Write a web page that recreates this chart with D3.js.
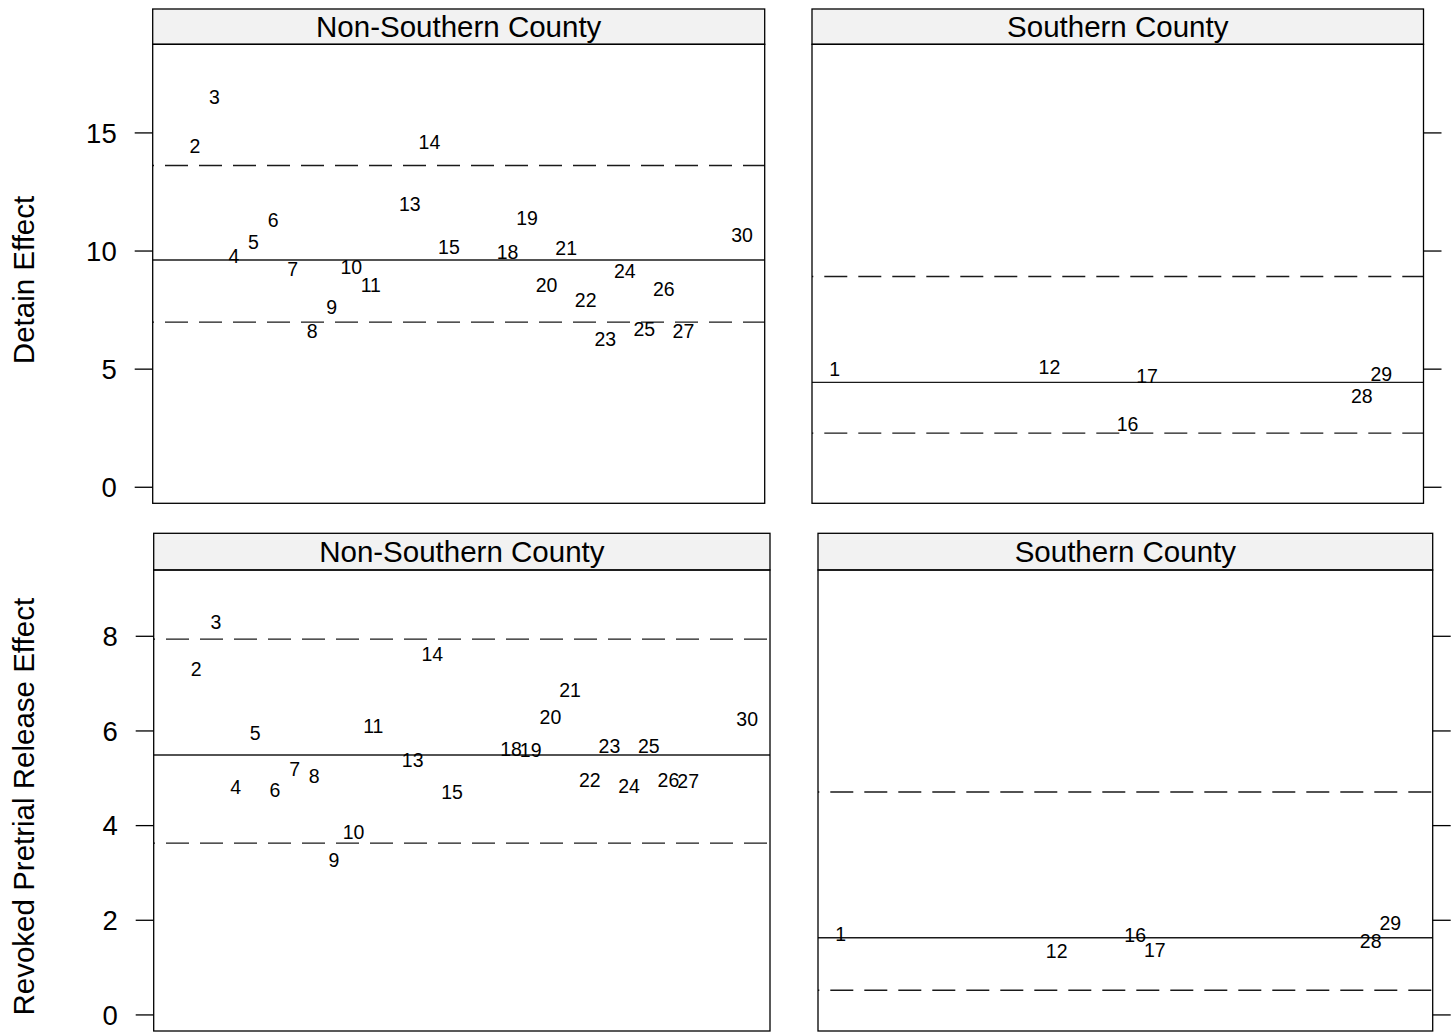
<!DOCTYPE html>
<html>
<head>
<meta charset="utf-8">
<script src="https://cdn.jsdelivr.net/npm/d3@7"></script>
<style>
  html, body { margin: 0; padding: 0; background: #fff; }
  svg { display: block; }
  text { font-family: "Liberation Sans", Arial, Helvetica, sans-serif; fill: #000; }
</style>
</head>
<body>
<svg id="chart" width="1455" height="1032"></svg>
<script>
// County identifiers, plotted along the x axis in order
const countyIds = [1, 2, 3, 4, 5, 6, 7, 8, 9, 10, 11, 12, 13, 14, 15,
                   16, 17, 18, 19, 20, 21, 22, 23, 24, 25, 26, 27, 28, 29, 30];

// Region of each county (same order as countyIds)
const countyRegion = ["Southern County", "Non-Southern County", "Non-Southern County", "Non-Southern County",
  "Non-Southern County", "Non-Southern County", "Non-Southern County", "Non-Southern County",
  "Non-Southern County", "Non-Southern County", "Non-Southern County", "Southern County",
  "Non-Southern County", "Non-Southern County", "Non-Southern County", "Southern County",
  "Southern County", "Non-Southern County", "Non-Southern County", "Non-Southern County",
  "Non-Southern County", "Non-Southern County", "Non-Southern County", "Non-Southern County",
  "Non-Southern County", "Non-Southern County", "Non-Southern County", "Southern County",
  "Southern County", "Non-Southern County"];

// Estimated effects per county
const detainEffect = [4.97, 14.41, 16.49, 9.76, 10.38, 11.28, 9.23, 6.61, 7.59, 9.29,
                      8.56, 5.05, 11.99, 14.61, 10.13, 2.67, 4.68, 9.94, 11.36, 8.53,
                      10.10, 7.90, 6.27, 9.13, 6.69, 8.38, 6.58, 3.85, 4.79, 10.64];
const revokedEffect = [1.70, 7.29, 8.29, 4.81, 5.95, 4.75, 5.19, 5.04, 3.27, 3.85,
                       6.10, 1.35, 5.37, 7.62, 4.70, 1.68, 1.37, 5.61, 5.59, 6.29,
                       6.86, 4.96, 5.68, 4.82, 5.67, 4.96, 4.94, 1.55, 1.93, 6.25];

// Panel order and reference lines (centre, lower and upper bounds) per panel
const panelNames = ["Non-Southern County", "Southern County"];
const detainCenter = [9.60, 4.42];
const detainLower  = [6.97, 2.27];
const detainUpper  = [13.60, 8.90];
const revokedCenter = [5.48, 1.62];
const revokedLower  = [3.62, 0.51];
const revokedUpper  = [7.93, 4.70];

// Tick values
const detainTicks = [0, 5, 10, 15];
const revokedTicks = [0, 2, 4, 6, 8];

const svg = d3.select("#chart");

const FONT_TICK = 27.5, FONT_STRIP = 29.5, FONT_TITLE = 29.5, FONT_LABEL = 19.5;
const CAP = 0.716; // cap height ratio of the sans face

const rows = [
  {
    title: "Detain Effect", values: detainEffect, ticks: detainTicks,
    center: detainCenter, lower: detainLower, upper: detainUpper,
    yDomain: [-0.70, 18.73],
    stripTop: 9, panelTop: 44.3, panelBottom: 503.3,
    panelsX: [[152.7, 764.7], [812, 1423.5]],
    titleY: 280
  },
  {
    title: "Revoked Pretrial Release Effect", values: revokedEffect, ticks: revokedTicks,
    center: revokedCenter, lower: revokedLower, upper: revokedUpper,
    yDomain: [-0.35, 9.39],
    stripTop: 533.3, panelTop: 570, panelBottom: 1031,
    panelsX: [[153.7, 770], [818, 1432.7]],
    titleY: 806.7
  }
];

// x domain padded like lattice (4% each side)
const xMin = d3.min(countyIds), xMax = d3.max(countyIds);
const xPad = (xMax - xMin) * 0.04;

rows.forEach(row => {
  const y = d3.scaleLinear().domain(row.yDomain).range([row.panelBottom, row.panelTop]);

  // Row axis title
  svg.append("text")
    .attr("transform", `translate(33.5,${row.titleY}) rotate(-90)`)
    .attr("text-anchor", "middle")
    .style("font-size", FONT_TITLE + "px")
    .text(row.title);

  panelNames.forEach((name, pi) => {
    const [x0, x1] = row.panelsX[pi];
    const x = d3.scaleLinear().domain([xMin - xPad, xMax + xPad]).range([x0, x1]);
    const g = svg.append("g");

    // Strip
    g.append("rect")
      .attr("x", x0).attr("y", row.stripTop)
      .attr("width", x1 - x0).attr("height", row.panelTop - row.stripTop)
      .attr("fill", "#f2f2f2").attr("stroke", "#000").attr("stroke-width", 1.3);
    g.append("text")
      .attr("x", (x0 + x1) / 2)
      .attr("y", (row.stripTop + row.panelTop) / 2 + CAP * FONT_STRIP / 2)
      .attr("text-anchor", "middle")
      .style("font-size", FONT_STRIP + "px")
      .text(name);

    // Reference lines
    const refs = [
      { v: row.upper[pi], dash: "23,11" },
      { v: row.center[pi], dash: null },
      { v: row.lower[pi], dash: "23,11" }
    ];
    refs.forEach(r => {
      const ln = g.append("line")
        .attr("x1", x0).attr("x2", x1)
        .attr("y1", y(r.v)).attr("y2", y(r.v))
        .attr("stroke", "#1a1a1a").attr("stroke-width", 1.4);
      if (r.dash) ln.attr("stroke-dasharray", r.dash).attr("stroke-dashoffset", -12.3);
    });

    // County labels
    const pts = countyIds
      .map((id, i) => ({ id, region: countyRegion[i], v: row.values[i] }))
      .filter(d => d.region === name);
    g.selectAll("text.pt").data(pts).join("text")
      .attr("class", "pt")
      .attr("x", d => x(d.id))
      .attr("y", d => y(d.v) + CAP * FONT_LABEL / 2)
      .attr("text-anchor", "middle")
      .style("font-size", FONT_LABEL + "px")
      .text(d => d.id);

    // Panel border
    g.append("rect")
      .attr("x", x0).attr("y", row.panelTop)
      .attr("width", x1 - x0).attr("height", row.panelBottom - row.panelTop)
      .attr("fill", "none").attr("stroke", "#000").attr("stroke-width", 1.3);

    // Axes: labelled on the left of the first panel, bare ticks on the right of the last
    if (pi === 0) {
      const ax = svg.append("g")
        .attr("transform", `translate(${x0},0)`)
        .call(d3.axisLeft(y).tickValues(row.ticks).tickSize(18).tickPadding(18));
      ax.select(".domain").remove();
      ax.selectAll("line").attr("stroke", "#000").attr("stroke-width", 1.3);
      ax.selectAll("text")
        .attr("dy", null)
        .attr("y", CAP * FONT_TICK / 2)
        .style("font-size", FONT_TICK + "px")
        .style("font-family", "\"Liberation Sans\", Arial, sans-serif")
        .attr("fill", "#000");
    } else {
      const ax = svg.append("g")
        .attr("transform", `translate(${x1},0)`)
        .call(d3.axisRight(y).tickValues(row.ticks).tickSize(18).tickFormat(""));
      ax.select(".domain").remove();
      ax.selectAll("line").attr("stroke", "#000").attr("stroke-width", 1.3);
    }
  });
});
</script>
</body>
</html>
